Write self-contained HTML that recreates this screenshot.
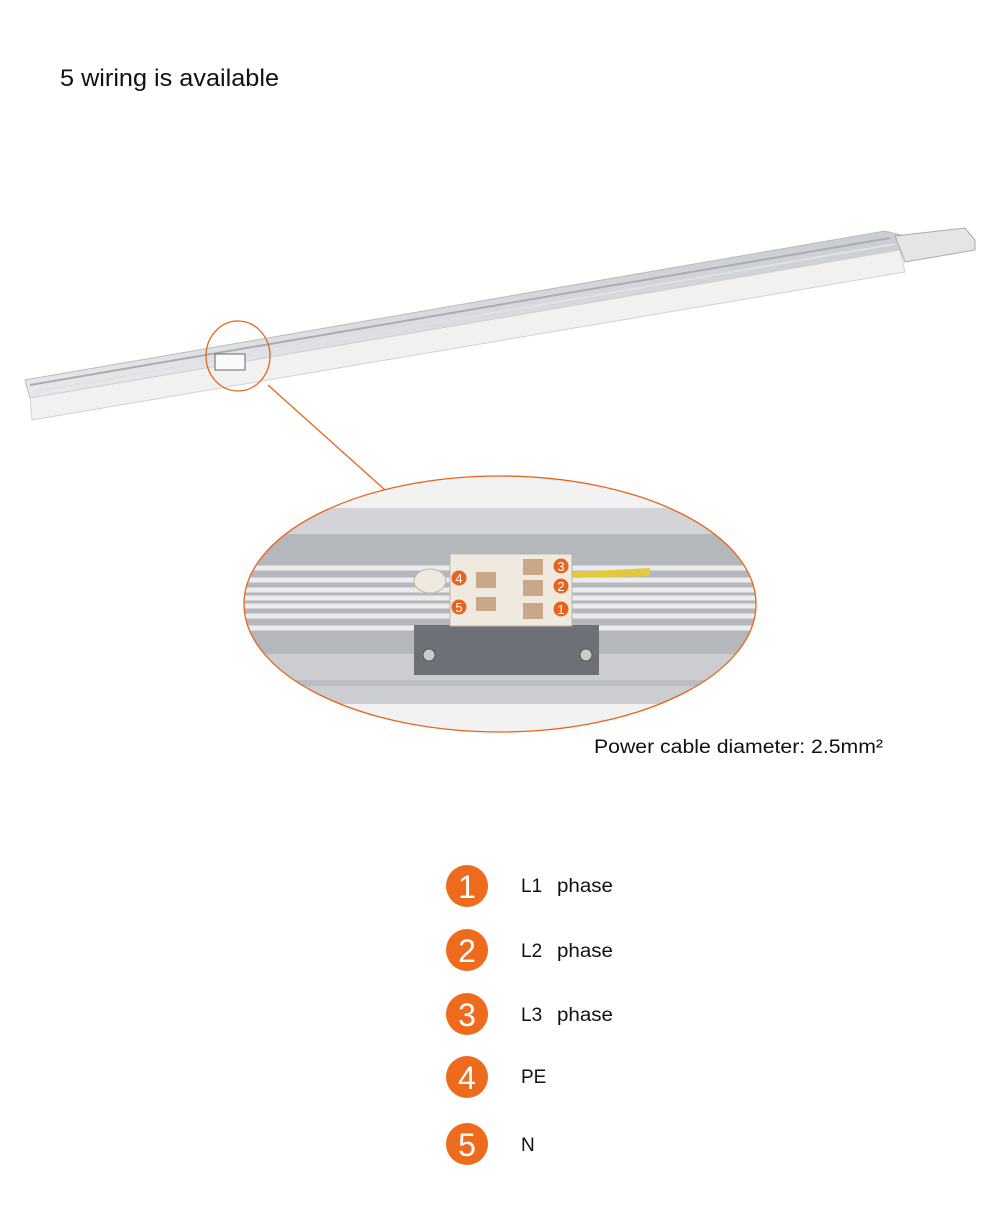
<!DOCTYPE html>
<html><head><meta charset="utf-8"><style>
body{margin:0;background:#fff;font-family:"Liberation Sans",Arial,sans-serif;}
.w{position:relative;width:1000px;height:1218px;overflow:hidden;}
</style></head><body><div class="w">
<svg width="1000" height="1218" viewBox="0 0 1000 1218" xmlns="http://www.w3.org/2000/svg" style="position:absolute;left:0;top:0">
<defs>
<clipPath id="ec"><ellipse cx="500" cy="604" rx="256" ry="128"/></clipPath>
<linearGradient id="rg" x1="0" y1="0" x2="0" y2="1"><stop offset="0" stop-color="#c9ccd0"/><stop offset="1" stop-color="#e8e9eb"/></linearGradient>
</defs>
<text x="60" y="86" font-size="24" fill="#111" textLength="219" lengthAdjust="spacingAndGlyphs" font-family="Liberation Sans, sans-serif">5 wiring is available</text>
<!-- rail -->
<polygon points="25,380 885,231 905,236 900,250 30,398" fill="url(#rg)" stroke="#b8bbbf" stroke-width="1"/>
<polygon points="30,398 900,250 905,272 32,420" fill="#f1f1f2" stroke="#d0d2d4" stroke-width="1"/>
<line x1="30" y1="385" x2="890" y2="238" stroke="#a9adb2" stroke-width="2"/>
<line x1="32" y1="392" x2="895" y2="244" stroke="#dfe1e3" stroke-width="2"/>
<polygon points="895,236 965,228 975,240 975,250 905,262" fill="#e4e5e7" stroke="#aaa" stroke-width="1"/>
<rect x="215" y="354" width="30" height="16" fill="#fafafa" stroke="#666" stroke-width="1"/>
<ellipse cx="238" cy="356" rx="32" ry="35" fill="none" stroke="#e8641e" stroke-width="1.3"/>
<line x1="268" y1="385" x2="385" y2="490" stroke="#e8641e" stroke-width="1.3"/>
<!-- zoom ellipse -->
<g clip-path="url(#ec)">
<rect x="240" y="470" width="520" height="270" fill="#f2f2f3"/>
<rect x="240" y="508" width="520" height="26" fill="#d2d4d7"/>
<rect x="240" y="534" width="520" height="120" fill="#b4b7bb"/>
<g stroke="#ececee" stroke-width="5">
<line x1="240" y1="568" x2="760" y2="568"/><line x1="240" y1="580" x2="760" y2="580"/>
<line x1="240" y1="590" x2="760" y2="590"/>
<line x1="240" y1="598" x2="760" y2="598"/><line x1="240" y1="606" x2="760" y2="606"/>
<line x1="240" y1="616" x2="760" y2="616"/><line x1="240" y1="628" x2="760" y2="628"/>
</g>
<rect x="240" y="654" width="520" height="50" fill="#cbcdd0"/>
<rect x="240" y="680" width="520" height="6" fill="#babdc1"/>
<polygon points="570,572 650,568 650,576 575,578" fill="#e6c93a"/>
<rect x="414" y="625" width="185" height="50" fill="#6d7076"/>
<circle cx="429" cy="655" r="6" fill="#ccc" stroke="#555"/><circle cx="586" cy="655" r="6" fill="#ccc" stroke="#555"/>
<rect x="450" y="554" width="122" height="72" fill="#efe9df" stroke="#bdb5a8"/>
<ellipse cx="430" cy="581" rx="16" ry="12" fill="#efe9df" stroke="#bdb5a8"/>
<rect x="476" y="572" width="20" height="16" fill="#c9a88a"/>
<rect x="476" y="597" width="20" height="14" fill="#c9a88a"/>
<rect x="523" y="559" width="20" height="16" fill="#c9a88a"/>
<rect x="523" y="580" width="20" height="16" fill="#c9a88a"/>
<rect x="523" y="603" width="20" height="16" fill="#c9a88a"/>
</g>
<ellipse cx="500" cy="604" rx="256" ry="128" fill="none" stroke="#e8641e" stroke-width="1.3"/>
<g font-family="Liberation Sans, sans-serif" font-size="13" fill="#fff" text-anchor="middle">
<circle cx="459" cy="578" r="7.5" fill="#e8641e"/><text x="459" y="583">4</text>
<circle cx="459" cy="607" r="7.5" fill="#e8641e"/><text x="459" y="612">5</text>
<circle cx="561" cy="566" r="7.5" fill="#e8641e"/><text x="561" y="571">3</text>
<circle cx="561" cy="586" r="7.5" fill="#e8641e"/><text x="561" y="591">2</text>
<circle cx="561" cy="609" r="7.5" fill="#e8641e"/><text x="561" y="614">1</text>
</g>
<text x="594" y="753" font-size="19" fill="#111" textLength="289" lengthAdjust="spacingAndGlyphs" font-family="Liberation Sans, sans-serif">Power cable diameter: 2.5mm²</text>
<g font-family="Liberation Sans, sans-serif">
<g fill="#ee6a1c"><circle cx="467" cy="886" r="21"/><circle cx="467" cy="950" r="21"/><circle cx="467" cy="1014" r="21"/><circle cx="467" cy="1077" r="21"/><circle cx="467" cy="1144" r="21"/></g>
<g fill="#fff" font-size="32" text-anchor="middle"><text x="467" y="898">1</text><text x="467" y="962">2</text><text x="467" y="1026">3</text><text x="467" y="1089">4</text><text x="467" y="1156">5</text></g>
<g fill="#111" font-size="19">
<text x="521" y="892">L1</text><text x="557" y="892" textLength="56" lengthAdjust="spacingAndGlyphs">phase</text>
<text x="521" y="957">L2</text><text x="557" y="957" textLength="56" lengthAdjust="spacingAndGlyphs">phase</text>
<text x="521" y="1021">L3</text><text x="557" y="1021" textLength="56" lengthAdjust="spacingAndGlyphs">phase</text>
<text x="521" y="1083">PE</text><text x="521" y="1151">N</text></g>
</g>
</svg>
</div></body></html>
